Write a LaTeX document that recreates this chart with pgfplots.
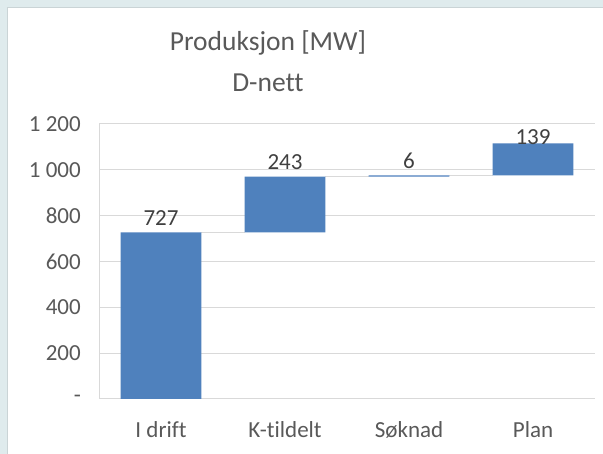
\documentclass[border=0pt]{standalone}
\usepackage{fontspec}
\setmainfont{Carlito}[Ligatures=NoCommon]
\usepackage{pgfplots}
\usepackage{pgfplotstable}
\pgfplotsset{compat=1.18}

\definecolor{barblue}{HTML}{4F81BD}
\definecolor{gridgrey}{HTML}{D9D9D9}
\definecolor{txtgrey}{HTML}{595959}
\definecolor{lblgrey}{HTML}{404040}
\definecolor{frameblue}{HTML}{DFEBED}
\definecolor{frameline}{HTML}{CAD4D6}

% waterfall: base = where the bar starts, d = step, dy = label offset above the bar top
\pgfplotstableread{
x base d dy
0 0 727 7
1 727 243 7
2 970 6 7
3 976 139 -1.5
}\bars

% connector lines between the bars
\pgfplotstableread{
x y
0.325 727
0.675 727
1 nan
1.325 970
1.675 970
2 nan
2.325 976
2.675 976
}\links

\pgfplotsset{
  wf/.style={
    scale only axis, width=496bp, height=275bp,
    at={(99bp,55bp)}, anchor=south west,
    xmin=-0.5, xmax=3.5, ymin=0, ymax=1200,
    /pgf/number format/assume math mode=true,
  }
}

\begin{document}
\begin{tikzpicture}[x=1bp,y=1bp]
\fill[frameblue] (0,0) rectangle (603,454);
\draw[frameline, fill=white, line width=1bp] (7.5,-2) rectangle (606,446.5);
\node[anchor=base, inner sep=0pt, font=\fontsize{27.5bp}{32bp}\selectfont, text=txtgrey] at (268,403.3) {Produksjon [MW]};
\node[anchor=base, inner sep=0pt, font=\fontsize{27.5bp}{32bp}\selectfont, text=txtgrey] at (268,362.3) {D-nett};

\begin{axis}[wf,
  axis x line*=bottom, axis y line*=left,
  axis line style={draw=gridgrey, line width=1bp, -},
  ymajorgrids, grid style={draw=gridgrey, line width=1bp},
  xtick={0,1,2,3}, xticklabels={I drift, K-tildelt, Søknad, Plan},
  ytick={0,200,...,1200}, yticklabels={-,200,400,600,800,1 000,1 200},
  major tick length=0pt,
  tick label style={font=\fontsize{23bp}{28bp}\selectfont, text=txtgrey, inner sep=0pt},
  xticklabel style={anchor=base, yshift=-39bp},
  yticklabel style={anchor=east, xshift=-18bp},
  unbounded coords=jump,
]
\addplot[gridgrey, line width=1.2bp] table[x=x,y=y]{\links};
\end{axis}

\begin{axis}[wf, hide axis, ybar stacked, bar width=0.65, clip=false]
\addplot[draw=none, fill=none] table[x=x,y=base]{\bars};
% stacked labels sit at the middle of the segment: lift them by half its height
\addplot[draw=none, fill=barblue, nodes near coords, point meta=explicit,
  visualization depends on={\thisrow{dy}+\thisrow{d}*275/2400\as\dy},
  nodes near coords style={anchor=base, inner sep=0pt, yshift=\dy bp,
    font=\fontsize{23bp}{28bp}\selectfont, text=lblgrey}]
  table[x=x,y=d,meta=d]{\bars};
\end{axis}

\pgfresetboundingbox
\useasboundingbox (0,0) rectangle (603,454);
\end{tikzpicture}
\end{document}
